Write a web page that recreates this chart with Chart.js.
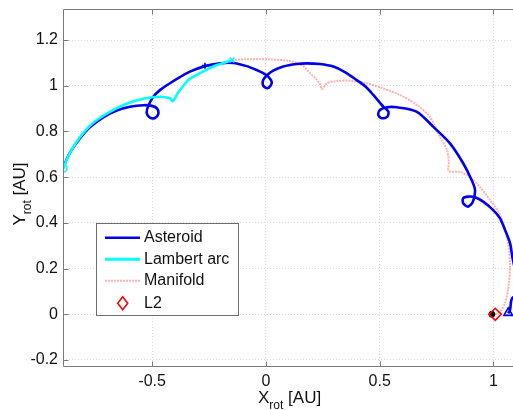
<!DOCTYPE html>
<html>
<head>
<meta charset="utf-8">
<script src="https://cdn.jsdelivr.net/npm/chart.js@4"></script>
<style>
    html, body { margin: 0; padding: 0; background: #fff; overflow: hidden; }
    #grafico { display: block; }
</style>
</head>
<body>
<canvas id="grafico" width="513" height="410"></canvas>
<script>
// trajectory points (AU, rotating frame)
const asteroidX = [-0.892, -0.862, -0.818, -0.774, -0.715, -0.656, -0.598, -0.539, -0.501, -0.479, -0.473, -0.488, -0.510, -0.524, -0.517, -0.495, -0.466, -0.422, -0.378, -0.334, -0.268, -0.202, -0.144, -0.085, -0.041, -0.012, 0.010, 0.025, 0.021, 0.006, -0.012, -0.012, 0.006, 0.032, 0.076, 0.135, 0.179, 0.237, 0.296, 0.347, 0.399, 0.440, 0.472, 0.516, 0.538, 0.534, 0.509, 0.494, 0.501, 0.531, 0.575, 0.662, 0.735, 0.809, 0.867, 0.904, 0.919, 0.910, 0.889, 0.867, 0.867, 0.889, 0.919, 0.955, 0.999, 1.029, 1.051, 1.073, 1.083, 1.095, 1.105, 1.118, 1.125, 1.112, 1.092, 1.079, 1.073, 1.065]
const asteroidY = [0.640, 0.706, 0.770, 0.818, 0.862, 0.892, 0.908, 0.915, 0.912, 0.901, 0.877, 0.859, 0.861, 0.881, 0.912, 0.952, 0.981, 1.011, 1.038, 1.062, 1.086, 1.098, 1.100, 1.086, 1.069, 1.055, 1.040, 1.018, 1.001, 0.989, 1.001, 1.025, 1.047, 1.066, 1.084, 1.095, 1.098, 1.095, 1.084, 1.060, 1.025, 0.995, 0.960, 0.909, 0.887, 0.865, 0.858, 0.872, 0.894, 0.906, 0.906, 0.887, 0.821, 0.748, 0.661, 0.588, 0.544, 0.493, 0.471, 0.486, 0.508, 0.515, 0.512, 0.493, 0.456, 0.420, 0.369, 0.311, 0.252, 0.195, 0.150, 0.118, 0.095, 0.080, 0.078, 0.063, 0.019, 0.004]

const lambertX = [-0.892, -0.888, -0.862, -0.818, -0.759, -0.686, -0.612, -0.539, -0.466, -0.422, -0.409, -0.387, -0.356, -0.334, -0.277, -0.215, -0.149]
const lambertY = [0.640, 0.646, 0.705, 0.774, 0.838, 0.886, 0.921, 0.943, 0.952, 0.945, 0.933, 0.968, 1.009, 1.031, 1.062, 1.091, 1.112]

const manifoldX = [-0.149, -0.084, 0.004, 0.105, 0.163, 0.193, 0.220, 0.237, 0.246, 0.268, 0.312, 0.369, 0.444, 0.514, 0.589, 0.664, 0.721, 0.765, 0.796, 0.804, 0.804, 0.853, 0.897, 0.941, 0.985, 1.029, 1.064, 1.073, 1.064, 1.051, 1.029, 1.007]
const manifoldY = [1.113, 1.116, 1.116, 1.108, 1.087, 1.056, 1.030, 1.008, 0.985, 1.011, 1.021, 1.022, 1.011, 0.989, 0.960, 0.916, 0.863, 0.776, 0.719, 0.667, 0.627, 0.623, 0.601, 0.557, 0.500, 0.435, 0.312, 0.207, 0.106, 0.049, 0.010, 0.001]

const l2Point = [1.008, 0]
const moonPoint = [0.993, 0]
const lambertStart = [-0.892, 0.640]
const lambertEnd = [-0.149, 1.113]
const asteroidMark = [-0.268, 1.088]
const asteroidEnd = [1.065, 0.006]

const legendNames = ["Asteroid", "Lambert arc", "Manifold", "L2"]
const xTicks = [-0.5, 0, 0.5, 1]
const yTicks = [-0.2, 0, 0.2, 0.4, 0.6, 0.8, 1, 1.2]

const FONT = "'Liberation Sans', Arial, Helvetica, sans-serif"
const BLUE = "#0000f0"
const CYAN = "#00ffff"
const PINK = "rgba(255, 80, 80, 0.45)"

// plot box in pixels (right side runs off the picture)
const BOX = { left: 63, top: 9, right: 513, bottom: 366 }

function toPoints (xs, ys) {
    return xs.map((x, i) => ({ x: x, y: ys[i] }))
}

function onePoint (p) {
    return [{ x: p[0], y: p[1] }]
}

// pin the plot area to the box
const fixArea = {
    id: "fixArea",
    afterLayout (chart) {
        const xs = chart.scales.x
        const ys = chart.scales.y
        xs.left = BOX.left; xs.right = BOX.right; xs.width = BOX.right - BOX.left
        xs.top = BOX.bottom; xs.bottom = 410; xs.height = 410 - BOX.bottom
        ys.top = BOX.top; ys.bottom = BOX.bottom; ys.height = BOX.bottom - BOX.top
        ys.left = 0; ys.right = BOX.left; ys.width = BOX.left
        xs.configure()
        ys.configure()
        const a = chart.chartArea
        a.left = BOX.left; a.right = BOX.right; a.top = BOX.top; a.bottom = BOX.bottom
        a.width = BOX.right - BOX.left; a.height = BOX.bottom - BOX.top
    }
}

// MATLAB-like box, inward ticks, legend and axis titles
const matlabBox = {
    id: "matlabBox",
    afterDraw (chart) {
        const ctx = chart.ctx
        const a = chart.chartArea
        const xs = chart.scales.x
        const ys = chart.scales.y
        const L = Math.round(a.left) + 0.5
        const T = Math.round(a.top) + 0.5
        const B = Math.round(a.bottom) + 0.5
        ctx.save()
        ctx.strokeStyle = "#7a7a7a"
        ctx.lineWidth = 1
        ctx.beginPath()
        ctx.moveTo(a.right + 5, T)
        ctx.lineTo(L, T)
        ctx.lineTo(L, B)
        ctx.lineTo(a.right + 5, B)
        xTicks.forEach((v) => {
            const px = Math.round(xs.getPixelForValue(v)) + 0.5
            ctx.moveTo(px, B)
            ctx.lineTo(px, B - 5)
            ctx.moveTo(px, T)
            ctx.lineTo(px, T + 5)
        })
        yTicks.forEach((v) => {
            const py = Math.round(ys.getPixelForValue(v)) + 0.5
            ctx.moveTo(L, py)
            ctx.lineTo(L + 5, py)
        })
        ctx.stroke()

        // legend
        ctx.fillStyle = "#fff"
        ctx.fillRect(96.5, 223.5, 142, 92)
        ctx.strokeStyle = "#6e6e6e"
        ctx.strokeRect(96.5, 223.5, 142, 92)
        const rows = [237.7, 259.3, 280.7, 303.3]
        ctx.lineWidth = 2.5
        ctx.strokeStyle = BLUE
        ctx.beginPath(); ctx.moveTo(105, rows[0]); ctx.lineTo(140, rows[0]); ctx.stroke()
        ctx.lineWidth = 3
        ctx.strokeStyle = CYAN
        ctx.beginPath(); ctx.moveTo(105, rows[1]); ctx.lineTo(140, rows[1]); ctx.stroke()
        ctx.lineWidth = 2
        ctx.strokeStyle = PINK
        ctx.setLineDash([2, 1])
        ctx.beginPath(); ctx.moveTo(105, rows[2]); ctx.lineTo(140, rows[2]); ctx.stroke()
        ctx.setLineDash([])
        ctx.lineWidth = 1.6
        ctx.strokeStyle = "#ff0000"
        ctx.beginPath()
        ctx.moveTo(122.7, rows[3] - 6.5)
        ctx.lineTo(127.7, rows[3])
        ctx.lineTo(122.7, rows[3] + 6.5)
        ctx.lineTo(117.7, rows[3])
        ctx.closePath()
        ctx.stroke()
        ctx.fillStyle = "#111"
        ctx.font = "16px " + FONT
        ctx.textBaseline = "middle"
        ctx.textAlign = "left"
        legendNames.forEach((n, i) => ctx.fillText(n, 144, rows[i]))

        // axis titles with subscript
        ctx.textBaseline = "alphabetic"
        const big = "17px " + FONT
        const small = "12px " + FONT
        ctx.font = big
        const wX = ctx.measureText("X").width
        const wAU = ctx.measureText(" [AU]").width
        ctx.font = small
        const wRot = ctx.measureText("rot").width
        let x0 = 258
        ctx.font = big; ctx.fillText("X", x0, 403)
        ctx.font = small; ctx.fillText("rot", x0 + wX, 409)
        ctx.font = big; ctx.fillText(" [AU]", x0 + wX + wRot, 403)

        ctx.translate(25, 194)
        ctx.rotate(-Math.PI / 2)
        const total = wX + wRot + wAU
        x0 = -total / 2
        ctx.font = big; ctx.fillText("Y", x0, 0)
        ctx.font = small; ctx.fillText("rot", x0 + wX, 6)
        ctx.font = big; ctx.fillText(" [AU]", x0 + wX + wRot, 0)
        ctx.restore()
    }
}

function criarGrafico () {
    const canvas = document.getElementById("grafico")
    const xMin = -0.892
    const xMax = xMin + (BOX.right - BOX.left) / 227.5
    const yMax = 1.336
    const yMin = yMax - (BOX.bottom - BOX.top) / 228.5

    new Chart(canvas, {
        type: "scatter",
        data: {
            datasets: [
                {
                    label: "Lambert arc",
                    data: toPoints(lambertX, lambertY),
                    showLine: true,
                    borderColor: CYAN,
                    borderWidth: 2.6,
                    pointRadius: 0,
                    tension: 0.3,
                    order: 2
                },
                {
                    label: "Asteroid",
                    data: toPoints(asteroidX, asteroidY),
                    showLine: true,
                    borderColor: BLUE,
                    borderWidth: 2.6,
                    pointRadius: 0,
                    tension: 0.3,
                    order: 3
                },
                {
                    label: "Manifold",
                    data: toPoints(manifoldX, manifoldY),
                    showLine: true,
                    borderColor: PINK,
                    borderWidth: 2,
                    borderDash: [2, 1],
                    pointRadius: 0,
                    tension: 0.3,
                    order: 4
                },
                {
                    label: "moon",
                    data: onePoint(moonPoint),
                    pointStyle: "circle",
                    pointRadius: 3,
                    backgroundColor: "#000",
                    borderColor: "#000",
                    order: 1
                },
                {
                    label: "L2",
                    data: onePoint(l2Point),
                    pointStyle: "rectRot",
                    pointRadius: 6,
                    backgroundColor: "rgba(0,0,0,0)",
                    borderColor: "#ff0000",
                    borderWidth: 1.6,
                    order: 0
                },
                {
                    label: "start",
                    data: onePoint(lambertStart),
                    pointStyle: "circle",
                    pointRadius: 4,
                    backgroundColor: "rgba(0,0,0,0)",
                    borderColor: CYAN,
                    borderWidth: 1.6,
                    order: 0
                },
                {
                    label: "end",
                    data: onePoint(lambertEnd),
                    pointStyle: "crossRot",
                    pointRadius: 3.5,
                    borderColor: CYAN,
                    borderWidth: 1.6,
                    order: 0
                },
                {
                    label: "mark",
                    data: onePoint(asteroidMark),
                    pointStyle: "cross",
                    pointRadius: 3,
                    borderColor: BLUE,
                    borderWidth: 1.6,
                    order: 0
                },
                {
                    label: "asteroid end",
                    data: onePoint(asteroidEnd),
                    pointStyle: "triangle",
                    pointRadius: 5,
                    backgroundColor: "rgba(0,0,0,0)",
                    borderColor: BLUE,
                    borderWidth: 1.6,
                    order: 0
                }
            ]
        },
        options: {
            responsive: false,
            animation: false,
            devicePixelRatio: 1,
            layout: { padding: { left: 0, right: 0, top: BOX.top, bottom: 0 } },
            scales: {
                x: {
                    type: "linear",
                    min: xMin,
                    max: xMax,
                    afterBuildTicks: (s) => { s.ticks = xTicks.map((v) => ({ value: v })) },
                    ticks: {
                        font: { size: 16, family: FONT },
                        color: "#111",
                        padding: 6,
                        maxRotation: 0,
                        autoSkip: false,
                        callback: (v) => String(v)
                    },
                    grid: { color: "rgba(0,0,0,0.14)", drawTicks: false },
                    border: { display: false, dash: [1, 2] }
                },
                y: {
                    type: "linear",
                    min: yMin,
                    max: yMax,
                    afterBuildTicks: (s) => { s.ticks = yTicks.map((v) => ({ value: v })) },
                    ticks: {
                        font: { size: 16, family: FONT },
                        color: "#111",
                        padding: 5,
                        autoSkip: false,
                        callback: (v) => String(v)
                    },
                    grid: { color: "rgba(0,0,0,0.14)", drawTicks: false },
                    border: { display: false, dash: [1, 2] }
                }
            },
            plugins: {
                legend: { display: false },
                tooltip: { enabled: false }
            }
        },
        plugins: [fixArea, matlabBox]
    })
}

criarGrafico()
</script>
</body>
</html>
